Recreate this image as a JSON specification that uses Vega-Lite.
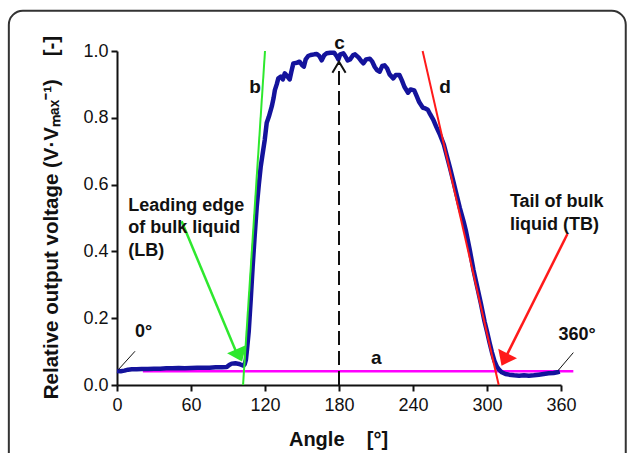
{
  "$schema": "https://vega.github.io/schema/vega-lite/v6.json",
  "autosize": {"type": "none"},
  "padding": {"left": 117, "top": 51, "right": 68, "bottom": 68},
  "width": 444,
  "height": 334,
  "background": "white",
  "config": {
    "view": {"stroke": null},
    "font": "Liberation Sans",
    "axis": {
      "grid": false,
      "domainColor": "#111",
      "domainWidth": 2,
      "tickColor": "#111",
      "tickWidth": 2,
      "tickSize": 6,
      "labelFont": "Liberation Sans",
      "labelFontSize": 18,
      "labelColor": "#111",
      "titleFont": "Liberation Sans",
      "titleFontSize": 20,
      "titleFontWeight": "bold",
      "titleColor": "#111"
    }
  },
  "datasets": {
    "curve": [
      {"x": 0, "y": 0.042}, {"x": 3, "y": 0.041}, {"x": 6, "y": 0.043}, {"x": 9, "y": 0.046}, {"x": 12, "y": 0.047},
      {"x": 16, "y": 0.047}, {"x": 20, "y": 0.048}, {"x": 25, "y": 0.048}, {"x": 30, "y": 0.049}, {"x": 35, "y": 0.049},
      {"x": 40, "y": 0.05}, {"x": 45, "y": 0.05}, {"x": 50, "y": 0.051}, {"x": 55, "y": 0.05}, {"x": 60, "y": 0.051},
      {"x": 65, "y": 0.052}, {"x": 70, "y": 0.052}, {"x": 75, "y": 0.052}, {"x": 80, "y": 0.053}, {"x": 85, "y": 0.053},
      {"x": 89, "y": 0.054}, {"x": 91, "y": 0.06}, {"x": 93, "y": 0.064}, {"x": 96, "y": 0.065}, {"x": 99, "y": 0.063},
      {"x": 101, "y": 0.06}, {"x": 102.5, "y": 0.058}, {"x": 103.5, "y": 0.062}, {"x": 104.5, "y": 0.075}, {"x": 105.5, "y": 0.11},
      {"x": 106.8, "y": 0.16}, {"x": 108.5, "y": 0.26}, {"x": 110, "y": 0.355}, {"x": 111.5, "y": 0.44}, {"x": 113.3, "y": 0.534},
      {"x": 115, "y": 0.6}, {"x": 116.5, "y": 0.653}, {"x": 118, "y": 0.69}, {"x": 119.8, "y": 0.734}, {"x": 121.4, "y": 0.785},
      {"x": 123.1, "y": 0.803}, {"x": 125.5, "y": 0.834}, {"x": 127, "y": 0.86}, {"x": 128, "y": 0.883}, {"x": 129.5, "y": 0.9},
      {"x": 130.8, "y": 0.918}, {"x": 132.8, "y": 0.923}, {"x": 134.5, "y": 0.915}, {"x": 136, "y": 0.933}, {"x": 138, "y": 0.925},
      {"x": 140, "y": 0.915}, {"x": 141.5, "y": 0.94}, {"x": 143, "y": 0.963}, {"x": 146, "y": 0.965}, {"x": 148, "y": 0.968},
      {"x": 150, "y": 0.958}, {"x": 151.5, "y": 0.953}, {"x": 153, "y": 0.975}, {"x": 155, "y": 0.985}, {"x": 157, "y": 0.988},
      {"x": 160, "y": 0.99}, {"x": 162, "y": 0.991}, {"x": 164, "y": 0.985}, {"x": 166, "y": 0.972}, {"x": 168, "y": 0.987},
      {"x": 170, "y": 0.993}, {"x": 173, "y": 0.995}, {"x": 176, "y": 0.995}, {"x": 178, "y": 0.985}, {"x": 179.5, "y": 0.975},
      {"x": 181, "y": 0.99}, {"x": 183.5, "y": 0.993}, {"x": 185, "y": 0.985}, {"x": 187, "y": 0.972}, {"x": 189, "y": 0.975},
      {"x": 191.5, "y": 0.988}, {"x": 193, "y": 0.99}, {"x": 196, "y": 0.98}, {"x": 198, "y": 0.97}, {"x": 199.7, "y": 0.963},
      {"x": 202, "y": 0.975}, {"x": 205, "y": 0.977}, {"x": 207, "y": 0.968}, {"x": 209, "y": 0.952}, {"x": 211, "y": 0.942},
      {"x": 213, "y": 0.938}, {"x": 215, "y": 0.955}, {"x": 217, "y": 0.957}, {"x": 219, "y": 0.948}, {"x": 221, "y": 0.93},
      {"x": 224, "y": 0.918}, {"x": 226, "y": 0.928}, {"x": 229, "y": 0.928}, {"x": 231, "y": 0.912}, {"x": 233, "y": 0.893},
      {"x": 236, "y": 0.875}, {"x": 238, "y": 0.885}, {"x": 241, "y": 0.882}, {"x": 243, "y": 0.865}, {"x": 245, "y": 0.847},
      {"x": 248, "y": 0.83}, {"x": 250, "y": 0.828}, {"x": 252, "y": 0.824}, {"x": 254, "y": 0.81}, {"x": 256.5, "y": 0.794},
      {"x": 259, "y": 0.772}, {"x": 262, "y": 0.748}, {"x": 265, "y": 0.72}, {"x": 267.5, "y": 0.685}, {"x": 270, "y": 0.65},
      {"x": 272.7, "y": 0.61}, {"x": 275, "y": 0.575}, {"x": 278, "y": 0.53}, {"x": 281, "y": 0.49}, {"x": 283, "y": 0.46},
      {"x": 286, "y": 0.405}, {"x": 289, "y": 0.345}, {"x": 292, "y": 0.295}, {"x": 295, "y": 0.245}, {"x": 298, "y": 0.19},
      {"x": 300, "y": 0.16}, {"x": 302, "y": 0.128}, {"x": 304, "y": 0.098}, {"x": 306, "y": 0.072}, {"x": 308, "y": 0.055},
      {"x": 310, "y": 0.045}, {"x": 312, "y": 0.038}, {"x": 315, "y": 0.033}, {"x": 318, "y": 0.031}, {"x": 322, "y": 0.029},
      {"x": 326, "y": 0.028}, {"x": 330, "y": 0.029}, {"x": 334, "y": 0.028}, {"x": 338, "y": 0.029}, {"x": 342, "y": 0.031},
      {"x": 346, "y": 0.033}, {"x": 350, "y": 0.035}, {"x": 354, "y": 0.036}, {"x": 357, "y": 0.038}, {"x": 359, "y": 0.04}
    ]
  },
  "encoding": {
    "x": {
      "field": "x", "type": "quantitative",
      "scale": {"domain": [0, 360], "nice": false, "zero": false},
      "axis": {"values": [0, 60, 120, 180, 240, 300, 360], "labelPadding": 5, "title": "Angle\u00a0\u00a0\u00a0\u00a0[°]", "titleX": 221, "titleY": 60, "titleBaseline": "alphabetic", "titleAlign": "center", "labelFlush": false}
    },
    "y": {
      "field": "y", "type": "quantitative",
      "scale": {"domain": [0, 1], "nice": false, "zero": false},
      "axis": {"values": [0, 0.2, 0.4, 0.6, 0.8, 1.0], "format": ".1f", "labelPadding": 3, "title": "Relative output voltage (V·Vₘₐₓ⁻¹)\u00a0\u00a0\u00a0\u00a0[-]", "titleFontSize": 20.5, "titleAngle": -90, "titleX": -60, "titleY": 166, "titleBaseline": "alphabetic", "titleAlign": "center", "labelFlush": false}
    }
  },
  "layer": [
    {
      "data": {"values": [{"x": -87.7, "x2": 412.5, "y": 1.1205, "y2": -0.3}]},
      "mark": {"type": "rect", "fillOpacity": 0, "stroke": "#333", "strokeWidth": 2, "cornerRadius": 14},
      "encoding": {"x2": {"field": "x2"}, "y2": {"field": "y2"}}
    },
    {
      "data": {"values": [{"x": 21, "x2": 370, "y": 0.041}]},
      "mark": {"type": "rule", "color": "#ff00ff", "strokeWidth": 2.5},
      "encoding": {"x2": {"field": "x2"}}
    },
    {
      "data": {"name": "curve"},
      "mark": {"type": "line", "color": "#14139c", "strokeWidth": 4.5, "strokeJoin": "round"},
      "encoding": {}
    },
    {
      "data": {"values": [{"x": 102.2, "y": 0, "x2": 120, "y2": 1.0}]},
      "mark": {"type": "rule", "color": "#2ee82e", "strokeWidth": 2},
      "encoding": {"x2": {"field": "x2"}, "y2": {"field": "y2"}}
    },
    {
      "data": {"values": [{"x": 247.8, "y": 1.0, "x2": 309.5, "y2": 0}]},
      "mark": {"type": "rule", "color": "#ff1a1a", "strokeWidth": 2},
      "encoding": {"x2": {"field": "x2"}, "y2": {"field": "y2"}}
    },
    {
      "data": {"values": [{"x": 180, "y": 0, "y2": 0.962}]},
      "mark": {"type": "rule", "color": "#111", "strokeWidth": 2, "strokeDash": [14, 6]},
      "encoding": {"y2": {"field": "y2"}}
    },
    {
      "data": {"values": [{"x": 180, "y": 0.968}]},
      "mark": {"type": "point", "shape": "M -0.6 1 L 0 0 L 0.6 1", "size": 484, "filled": false, "color": "#111", "strokeWidth": 2, "opacity": 1}
    },
    {
      "data": {"values": [{"x": 52.4, "y": 0.49, "x2": 96.5, "y2": 0.1}]},
      "mark": {"type": "rule", "color": "#2ee82e", "strokeWidth": 2.5},
      "encoding": {"x2": {"field": "x2"}, "y2": {"field": "y2"}}
    },
    {
      "data": {"values": [{"x": 101.4, "y": 0.07}]},
      "mark": {"type": "point", "shape": "M 0 0 L -0.77 1 L 0.77 1 Z", "size": 740, "filled": true, "color": "#2ee82e", "opacity": 1, "angle": 156.9}
    },
    {
      "data": {"values": [{"x": 365.2, "y": 0.452, "x2": 315.4, "y2": 0.085}]},
      "mark": {"type": "rule", "color": "#ff1a1a", "strokeWidth": 2.5},
      "encoding": {"x2": {"field": "x2"}, "y2": {"field": "y2"}}
    },
    {
      "data": {"values": [{"x": 311.8, "y": 0.058}]},
      "mark": {"type": "point", "shape": "M 0 0 L -0.77 1 L 0.77 1 Z", "size": 740, "filled": true, "color": "#ff1a1a", "opacity": 1, "angle": 206.5}
    },
    {
      "data": {"values": [{"x": 1.1, "y": 0.046, "x2": 14.6, "y2": 0.101}, {"x": 357.8, "y": 0.044, "x2": 370, "y2": 0.097}]},
      "mark": {"type": "rule", "color": "#111", "strokeWidth": 1},
      "encoding": {"x2": {"field": "x2"}, "y2": {"field": "y2"}}
    },
    {
      "data": {"values": [
        {"x": 111.9, "y": 0.892, "t": "b"},
        {"x": 180.5, "y": 1.024, "t": "c"},
        {"x": 266, "y": 0.893, "t": "d"},
        {"x": 210.2, "y": 0.081, "t": "a"}
      ]},
      "mark": {"type": "text", "font": "Liberation Sans", "fontSize": 19, "fontWeight": "bold", "color": "#111", "align": "center", "baseline": "middle"},
      "encoding": {"text": {"field": "t"}}
    },
    {
      "data": {"values": [
        {"x": 14.6, "y": 0.16, "t": "0°"},
        {"x": 357.9, "y": 0.151, "t": "360°"},
        {"x": 9.2, "y": 0.5366, "t": "Leading edge\nof bulk liquid\n(LB)"},
        {"x": 318.6, "y": 0.547, "t": "Tail of bulk\nliquid (TB)"}
      ]},
      "mark": {"type": "text", "font": "Liberation Sans", "fontSize": 18, "fontWeight": "bold", "color": "#111", "align": "left", "baseline": "middle", "lineBreak": "\n", "lineHeight": 22.5},
      "encoding": {"text": {"field": "t"}}
    }
  ]
}
